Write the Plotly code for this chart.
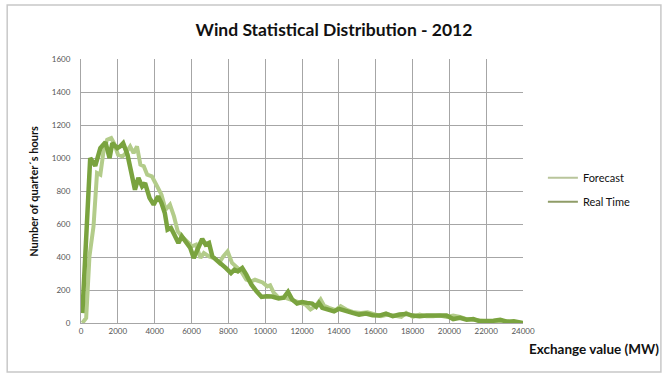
import plotly.graph_objects as go

# Exchange value (MW) / number of quarter hours
forecast_x = [75, 280, 460, 680, 870, 1050, 1235, 1420, 1640, 1790, 2010, 2250, 2430, 2670,
              2855, 3040, 3225, 3410, 3595, 3850, 4090, 4370, 4590, 4830, 5050, 5250, 5475,
              5750, 6025, 6245, 6485, 6670, 6950, 7225, 7500, 7725, 7960, 8200, 8425, 8700,
              8975, 9255, 9450, 9860, 10120, 10270, 10460, 10730, 11100, 11460, 11820, 12190,
              12460, 12730, 13010, 13190, 13460, 13830, 14100, 14470, 14830, 15200, 15560,
              15930, 16290, 16660, 17020, 17390, 17660, 18020, 18390, 18750, 19120, 19480,
              19850, 20210, 20580, 20940, 21300, 21670, 22030, 22400, 22760, 23130, 23500, 24000]
forecast_y = [0, 30, 404, 586, 909, 899, 1050, 1111, 1121, 1090, 1020, 1010, 1030, 1070,
              1030, 1070, 960, 950, 899, 889, 838, 778, 687, 717, 646, 556, 525,
              495, 465, 475, 394, 424, 404, 394, 364, 404, 434, 364, 343, 313,
              263, 252, 262, 246, 222, 229, 184, 153, 153, 139, 122, 112,
              82, 102, 143, 106, 92, 78, 102, 78, 65, 61, 65,
              51, 41, 51, 45, 37, 61, 37, 51, 41, 41, 45,
              37, 45, 37, 24, 20, 14, 10, 8, 6, 10, 4, 0]

realtime_x = [75, 500, 775, 1050, 1330, 1550, 1700, 1970, 2120, 2290, 2525, 2765, 2930, 3115,
              3320, 3480, 3720, 3945, 4185, 4370, 4550, 4700, 4885, 5070, 5290, 5475, 5700,
              5935, 6120, 6300, 6580, 6765, 6950, 7130, 7355, 7595, 7870, 8145, 8330, 8515,
              8755, 8975, 9255, 9530, 9805, 10080, 10365, 10730, 11000, 11240, 11460, 11730,
              12000, 12280, 12550, 12770, 12920, 13100, 13370, 13740, 14010, 14380, 14740,
              15100, 15470, 15830, 16200, 16560, 16930, 17290, 17660, 18020, 18390, 18750,
              19120, 19480, 19850, 20210, 20580, 20940, 21300, 21670, 22030, 22400, 22760,
              23130, 23500, 23860, 24000]
realtime_y = [60, 1000, 953, 1060, 1095, 1000, 1090, 1060, 1070, 1090, 1020, 910, 808, 880,
              828, 848, 758, 717, 768, 727, 667, 566, 576, 535, 485, 525, 495,
              455, 394, 434, 509, 475, 485, 404, 384, 360, 333, 303, 323, 313,
              333, 293, 232, 192, 158, 162, 160, 149, 153, 188, 143, 118,
              127, 122, 118, 98, 122, 92, 82, 71, 86, 71, 61,
              51, 57, 47, 45, 57, 41, 51, 55, 45, 41, 45,
              45, 45, 45, 24, 31, 20, 24, 10, 10, 14, 20,
              8, 10, 4, 0]

x_ticks = list(range(0, 24001, 2000))
x_labels = [str(v) for v in x_ticks]
y_ticks = list(range(0, 1601, 200))

font_family = "Lato, 'Open Sans', sans-serif"

fig = go.Figure()

fig.add_trace(go.Scatter(x=forecast_x, y=forecast_y, mode="lines",
                         line=dict(color="#b3cc8a", width=4), showlegend=False))
fig.add_trace(go.Scatter(x=realtime_x, y=realtime_y, mode="lines",
                         line=dict(color="#7aa33f", width=4.5), showlegend=False))

# thin legend swatches, like the original
fig.add_trace(go.Scatter(x=[None], y=[None], mode="lines", name="Forecast", legendgroup="f",
                         line=dict(color="#b9c59b", width=2)))
fig.add_trace(go.Scatter(x=[None], y=[None], mode="lines", name="Real Time", legendgroup="r",
                         line=dict(color="#8f9c67", width=2)))

fig.update_layout(
    width=668, height=383,
    plot_bgcolor="white", paper_bgcolor="white",
    margin=dict(l=81, r=145, t=59, b=60),
    font=dict(family=font_family),
    title=dict(text="<b>Wind Statistical Distribution - 2012</b>", x=0.5, xanchor="center",
               y=0.922, yanchor="middle", font=dict(size=17.5, color="#111111")),
    legend=dict(x=1.045, y=0.505, xanchor="left", yanchor="middle",
                font=dict(size=11, color="#111111"), tracegroupgap=5,
                itemwidth=30, bgcolor="rgba(0,0,0,0)"),
    xaxis=dict(range=[0, 24000], tickvals=x_ticks, ticktext=x_labels, showgrid=True,
               gridcolor="#a6a6a6", gridwidth=1, zeroline=False, showline=True,
               linecolor="#a6a6a6", ticks="", tickfont=dict(size=8, color="#555555")),
    yaxis=dict(range=[0, 1600], tickvals=y_ticks, showgrid=True, gridcolor="#a6a6a6",
               gridwidth=1, zeroline=False, showline=True, linecolor="#a6a6a6",
               ticks="", ticklabelstandoff=8, tickfont=dict(size=8, color="#555555")),
    shapes=[dict(type="rect", xref="paper", yref="paper", x0=-0.167, x1=1.312, y0=-0.186,
                 y1=1.205, line=dict(color="#c8c8c8", width=1.5))],
)

fig.add_annotation(text="<b>Number of quarter\u00b4s hours</b>", xref="paper", yref="paper",
                   x=-0.109, y=0.5, xanchor="center", textangle=-90, showarrow=False,
                   font=dict(size=11, color="#111111"))
fig.add_annotation(text="<b>Exchange value (MW)</b>", xref="paper", yref="paper",
                   x=1.01, y=-0.1, xanchor="left", yanchor="middle", showarrow=False,
                   font=dict(size=13.5, color="#111111"))

fig.write_html("out.html", config={"displayModeBar": False},
               post_script="document.body.style.margin='0';")
